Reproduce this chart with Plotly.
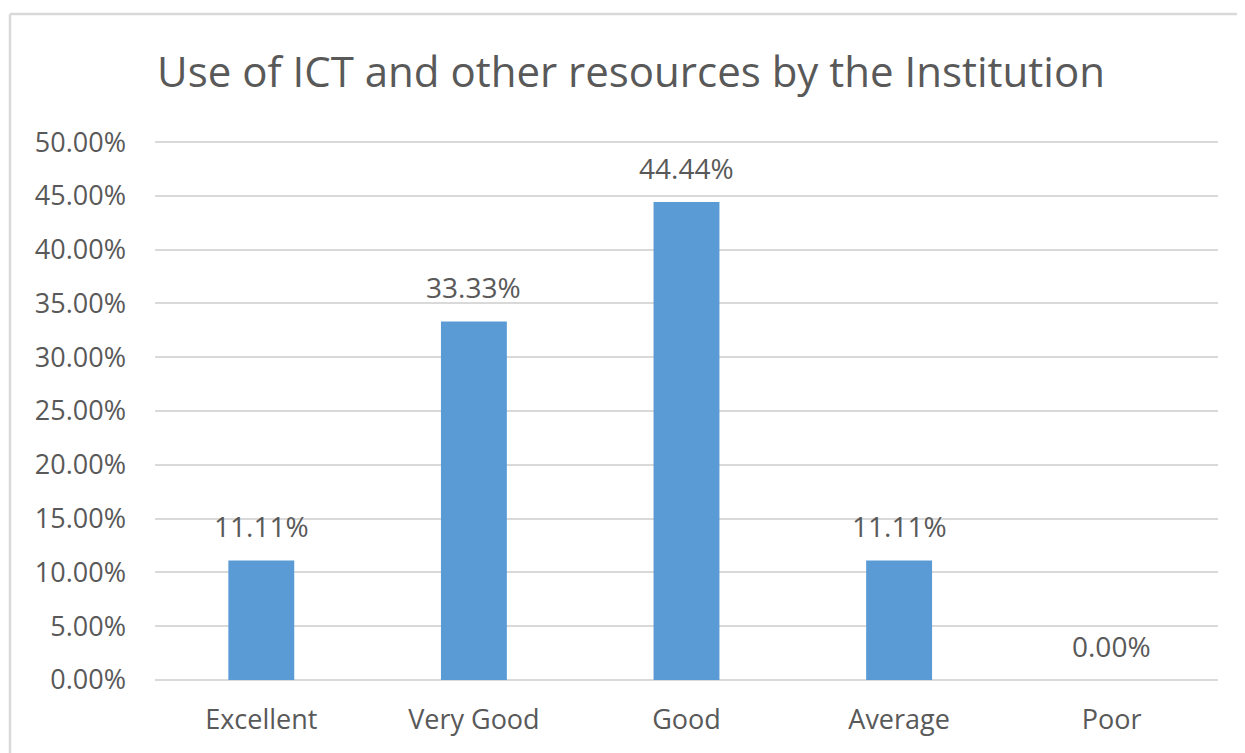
import plotly.graph_objects as go

categories = ["Excellent", "Very Good", "Good", "Average", "Poor"]
values = [0.1111, 0.3333, 0.4444, 0.1111, 0.0]
labels = ["11.11%", "33.33%", "44.44%", "11.11%", "0.00%"]
tick_vals = [round(i * 0.05, 2) for i in range(11)]
tick_text = ["%.2f%%" % (v * 100) for v in tick_vals]

FONT = "Open Sans"
TXT = "#595959"
GRID = "#D9D9D9"

fig = go.Figure()
fig.add_trace(go.Bar(x=categories, y=values, marker=dict(color="#5B9BD5", line=dict(width=0)),
                     hoverinfo="skip"))

for c, v, t in zip(categories, values, labels):
    fig.add_annotation(x=c, y=v, text=t, showarrow=False, yanchor="bottom",
                       yshift=13, font=dict(family=FONT, size=28, color=TXT))

OFF = 8  # page body margin
W, H = 1245 - OFF, 753 - OFF
L, R, T, B = 155 - OFF, 1218 - OFF, 141 - OFF, 680 - OFF
pw, ph = R - L, B - T
bx = (10 - OFF - L) / pw
by = (B - (14 - OFF)) / ph
fig.add_shape(type="line", xref="paper", yref="paper", x0=bx, x1=bx, y0=-0.3, y1=by,
              line=dict(color=GRID, width=2.5))
fig.add_shape(type="line", xref="paper", yref="paper", x0=bx, x1=1.1, y0=by, y1=by,
              line=dict(color=GRID, width=2.5))

fig.update_layout(
    width=W, height=H,
    margin=dict(l=L, r=W - R, t=T, b=H - B),
    paper_bgcolor="white", plot_bgcolor="white",
    bargap=0.69,
    showlegend=False,
    title=dict(text="Use of ICT and other resources by the Institution",
               x=(631 - OFF) / W, xanchor="center", y=1 - (72 - OFF) / H, yanchor="middle",
               font=dict(family=FONT, size=42, color=TXT)),
    xaxis=dict(showgrid=False, showline=False, ticks="", tickfont=dict(family=FONT, size=27, color=TXT),
               ticklabelstandoff=21),
    yaxis=dict(range=[0, 0.501], tickvals=tick_vals, ticktext=tick_text, showgrid=True,
               gridcolor=GRID, gridwidth=2, zeroline=True, zerolinecolor=GRID, zerolinewidth=2,
               showline=False, ticks="", tickfont=dict(family=FONT, size=27, color=TXT),
               ticklabelstandoff=28),
)

fig.write_html("out.html")
